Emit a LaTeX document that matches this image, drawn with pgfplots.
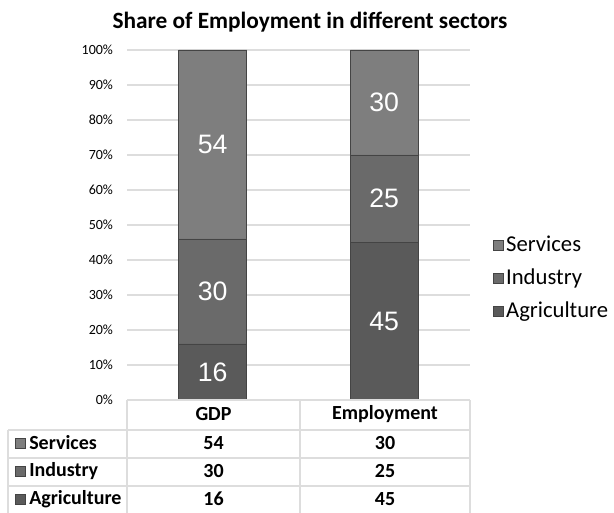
\documentclass[border=0pt]{standalone}
\usepackage{pgfplots}
\pgfplotsset{compat=1.18}
\usepackage{fontspec}
\setmainfont{Carlito}
\newfontfamily\arialf{Liberation Sans}
\definecolor{srv}{HTML}{7E7E7E}
\definecolor{ind}{HTML}{6A6A6A}
\definecolor{agr}{HTML}{5A5A5A}
\definecolor{gridc}{HTML}{DDDDDD}
\definecolor{edge}{HTML}{444444}
\begin{document}
\begin{tikzpicture}[x=0.75pt,y=0.75pt]
\path[use as bounding box] (0,0) rectangle (614,513);
\begin{axis}[
  at={(95.25pt,84.75pt)}, anchor=south west,
  scale only axis, width=257.25pt, height=262.5pt,
  ybar stacked, bar width=51pt,
  xmin=-0.5, xmax=1.5, ymin=0, ymax=100,
  xtick=\empty,
  ytick={0,10,...,100},
  yticklabel={\pgfmathprintnumber{\tick}\%},
  /pgf/number format/assume math mode=true,
  yticklabel style={font=\fontsize{10.5}{12}\selectfont, xshift=-7pt},
  ymajorgrids, grid style={gridc, line width=0.8pt},
  axis line style={draw=none},
  major tick length=0pt,
  legend style={at={(1,0.349)}, anchor=west, xshift=14pt, draw=none, fill=none,
    font=\fontsize{17}{18}\selectfont, row sep=7.5pt, cells={anchor=west}},
  reverse legend,
  legend image code/.code={\draw[#1, draw=edge, line width=0.4pt] (0pt,-3.75pt) rectangle (7.5pt,3.75pt);},
]
\addplot[fill=agr, draw=edge] coordinates {(0,16) (1,45)};
\addplot[fill=ind, draw=edge] coordinates {(0,30) (1,25)};
\addplot[fill=srv, draw=edge] coordinates {(0,54) (1,30)};
\legend{Agriculture, Industry, Services}
\end{axis}
\begin{axis}[
  at={(95.25pt,84.75pt)}, anchor=south west,
  scale only axis, width=257.25pt, height=262.5pt,
  xmin=-0.5, xmax=1.5, ymin=0, ymax=100, hide axis]
\addplot[draw=none, nodes near coords, point meta=explicit symbolic,
  nodes near coords style={anchor=center, text=white, font=\arialf\fontsize{20}{22}\selectfont}]
  table[meta=lab] {
x y lab
0 8 16
0 31 30
0 73 54
1 22.5 45
1 57.5 25
1 85 30
};
\end{axis}
% title
\node[font=\bfseries\fontsize{17.5}{20}\selectfont] at (310,491) {Share of Employment in different sectors};
% data table
\draw[gridc, line width=0.8pt] (127,113) -- (470,113);
\draw[gridc, line width=0.8pt] (8,83) -- (470,83);
\draw[gridc, line width=0.8pt] (8,55) -- (470,55);
\draw[gridc, line width=0.8pt] (8,27) -- (470,27);
\draw[gridc, line width=0.8pt] (127,0) -- (127,113);
\draw[gridc, line width=0.8pt] (300,0) -- (300,113);
\draw[gridc, line width=0.8pt] (470,0) -- (470,113);
\draw[gridc, line width=0.8pt] (8,0) -- (8,83);
\begin{scope}[every node/.style={font=\bfseries\fontsize{15}{17}\selectfont}]
\node at (213.5,99) {GDP};
\node at (385,99) {Employment};
\draw[fill=srv, draw=edge, line width=0.4pt] (15,65) rectangle (25,75);
\draw[fill=ind, draw=edge, line width=0.4pt] (15,37) rectangle (25,47);
\draw[fill=agr, draw=edge, line width=0.4pt] (15,9) rectangle (25,19);
\node[anchor=west, inner sep=0pt] at (29,70) {Services};
\node[anchor=west, inner sep=0pt] at (29,42) {Industry};
\node[anchor=west, inner sep=0pt] at (29,14) {Agriculture};
\node at (213.5,70) {54};
\node at (385,70) {30};
\node at (213.5,42) {30};
\node at (385,42) {25};
\node at (213.5,14) {16};
\node at (385,14) {45};
\end{scope}
\end{tikzpicture}
\end{document}
